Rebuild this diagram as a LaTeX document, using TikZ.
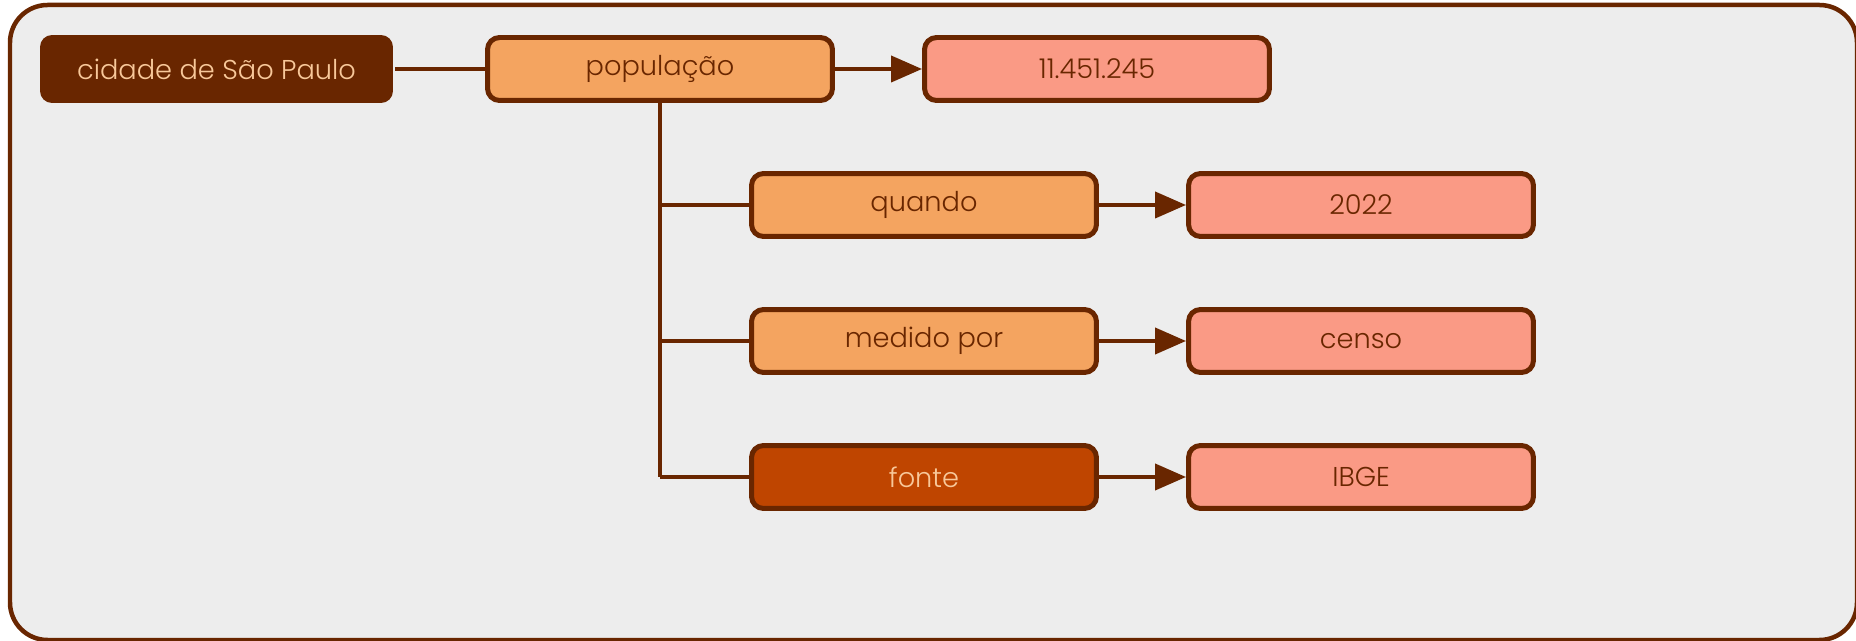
\documentclass[tikz,border=0pt]{standalone}
\usepackage{fontspec}
\setmainfont{Poppins}[UprightFont=* Light]
\usetikzlibrary{arrows.meta}
\definecolor{dbrown}{HTML}{692600}
\definecolor{sandy}{HTML}{F4A460}
\definecolor{salmon}{HTML}{FA9A85}
\definecolor{fontefill}{HTML}{BF4500}
\definecolor{bg}{HTML}{EDEDED}
\definecolor{lighttext}{HTML}{F8C89A}
\begin{document}
\begin{tikzpicture}[x=0.02cm,y=-0.02cm,
  base/.style={rounded corners=0.24cm, line width=0.1cm, draw=dbrown, minimum height=1.26cm, text=dbrown, font=\fontsize{15.5}{18}\selectfont, inner sep=0pt},
  keybox/.style={base, fill=sandy, minimum width=6.9cm},
  valbox/.style={base, fill=salmon, minimum width=6.9cm},
  rootbox/.style={base, draw=none, fill=dbrown, text=lighttext, minimum width=7.06cm, minimum height=1.36cm},
  srcbox/.style={keybox, fill=fontefill, text=lighttext},
  conn/.style={line width=0.08cm, draw=dbrown},
  arr/.style={conn, -{Triangle[length=0.62cm,width=0.52cm]}}
]
\useasboundingbox (0,0) rectangle (1856,641);
\draw[line width=0.09cm, draw=dbrown, fill=bg, rounded corners=0.75cm] (10,5) rectangle (1857,640);
\node[rootbox] (root) at (216.5,69) {cidade de São Paulo};
\node[keybox] (pop) at (660,69) {população};
\node[valbox] (popv) at (1097,69) {11.451.245};
\node[keybox] (quando) at (924,205) {quando};
\node[valbox] (quandov) at (1361,205) {2022};
\node[keybox] (medido) at (924,341) {medido por};
\node[valbox] (medidov) at (1361,341) {censo};
\node[srcbox] (fonte) at (924,477) {fonte};
\node[valbox] (fontev) at (1361,477) {IBGE};
\coordinate (tq) at (pop.south |- quando.west);
\coordinate (tm) at (pop.south |- medido.west);
\coordinate (tf) at (pop.south |- fonte.west);
\draw[conn] (root.east) -- (pop.west);
\draw[arr] (pop.east) -- (popv.west);
\draw[conn] (pop.south) -- (tf);
\draw[conn] (tq) -- (quando.west);
\draw[conn] (tm) -- (medido.west);
\draw[conn] (tf) -- (fonte.west);
\draw[arr] (quando.east) -- (quandov.west);
\draw[arr] (medido.east) -- (medidov.west);
\draw[arr] (fonte.east) -- (fontev.west);
\end{tikzpicture}
\end{document}
